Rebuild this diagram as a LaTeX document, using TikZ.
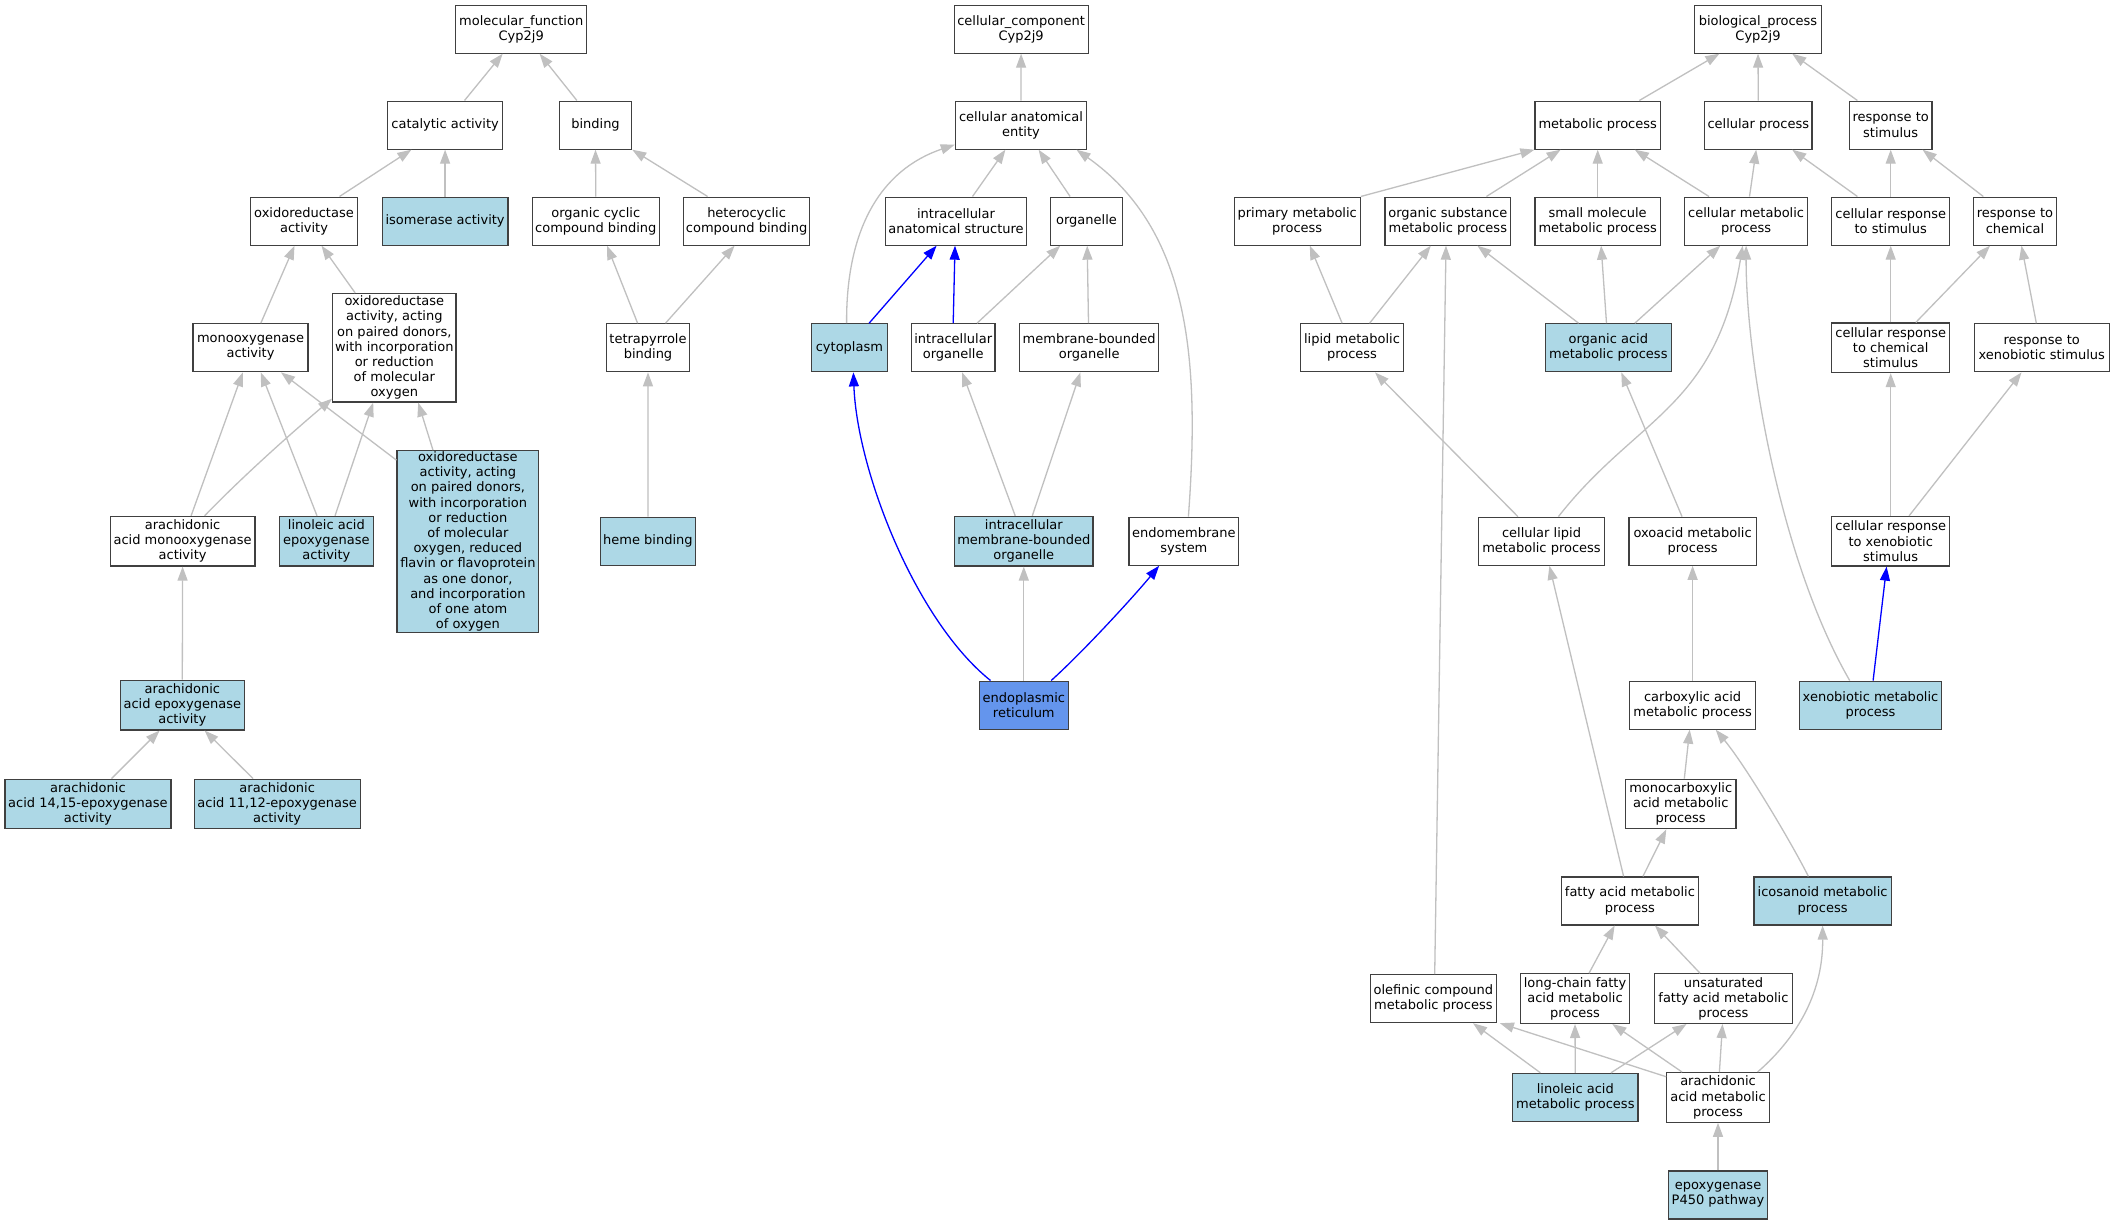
\documentclass[tikz,border=0pt]{standalone}
\usepackage{fontspec}
\setmainfont{DejaVu Sans}
\usetikzlibrary{arrows.meta}
\definecolor{lblue}{HTML}{ADD8E6}
\definecolor{cblue}{HTML}{6495ED}
\definecolor{egray}{HTML}{C0C0C0}
\newcommand\nf{\fontsize{13}{15.2}\selectfont}
\tikzset{
  box/.style={draw=black!75, line width=1.2pt, fill=white, inner sep=0pt, align=center, font=\nf, minimum height=48pt},
  lb/.style={box, fill=lblue},
  h3/.style={minimum height=49.6pt},
  e/.style={draw=egray, line width=1.3pt, -{Triangle[length=14pt,width=10pt]}},
  eb/.style={e, draw=blue}
}
\begin{document}
\begin{tikzpicture}[x=1pt,y=-1pt]
\fill[white] (0,0) rectangle (2113,1224);
\useasboundingbox (0,0) rectangle (2113,1224);
% row 1
\node[box, minimum width=131.3pt] (mf) at (521.2,29.1) {molecular\_function\\Cyp2j9};
\node[box, minimum width=134pt] (cc) at (1021.1,29.1) {cellular\_component\\Cyp2j9};
\node[box, minimum width=126.8pt] (bp) at (1758,29.1) {biological\_process\\Cyp2j9};
% row 2
\node[box, minimum width=115.1pt] (cat) at (445.1,125.1) {catalytic activity};
\node[box, minimum width=72.3pt] (bind) at (595.5,125.1) {binding};
\node[box, minimum width=131.3pt] (cae) at (1021,125.1) {cellular anatomical\\entity};
\node[box, minimum width=125.4pt] (met) at (1597.7,125.1) {metabolic process};
\node[box, minimum width=107.5pt] (cellp) at (1758.3,125.1) {cellular process};
\node[box, minimum width=82.7pt] (rts) at (1890.7,125.1) {response to\\stimulus};
% row 3
\node[box, minimum width=107.1pt] (oxr) at (304,221.1) {oxidoreductase\\activity};
\node[lb, minimum width=125.9pt] (iso) at (445.1,221.1) {isomerase activity};
\node[box, minimum width=126.8pt] (occb) at (595.8,221.1) {organic cyclic\\compound binding};
\node[box, minimum width=126.3pt] (hcb) at (746.6,221.1) {heterocyclic\\compound binding};
\node[box, minimum width=141.2pt] (ias) at (956,221.1) {intracellular\\anatomical structure};
\node[box, minimum width=72.4pt] (org) at (1086.5,221.1) {organelle};
\node[box, minimum width=125.9pt] (pmp) at (1297.2,221.1) {primary metabolic\\process};
\node[box, minimum width=125.8pt] (osmp) at (1447.8,221.1) {organic substance\\metabolic process};
\node[box, minimum width=125.4pt] (smmp) at (1597.7,221.1) {small molecule\\metabolic process};
\node[box, minimum width=122.8pt] (cmp) at (1746.1,221.1) {cellular metabolic\\process};
\node[box, minimum width=117.8pt] (crs) at (1890.7,221.1) {cellular response\\to stimulus};
\node[box, minimum width=83.2pt] (rtc) at (2015,221.1) {response to\\chemical};
% row 4
\node[box, minimum width=115.1pt] (mono) at (250.5,347.8) {monooxygenase\\activity};
\node[box, minimum width=123.2pt, minimum height=108.5pt] (oxra) at (394.3,347.8) {oxidoreductase\\activity, acting\\on paired donors,\\with incorporation\\or reduction\\of molecular\\oxygen};
\node[box, minimum width=82.7pt] (tetra) at (648,347.8) {tetrapyrrole\\binding};
\node[lb, minimum width=75.5pt] (cyto) at (849.4,347.8) {cytoplasm};
\node[box, minimum width=83.6pt] (io) at (953.2,347.8) {intracellular\\organelle};
\node[box, minimum width=139pt] (mbo) at (1089.2,347.8) {membrane-bounded\\organelle};
\node[box, minimum width=102.5pt] (lmp) at (1352,347.8) {lipid metabolic\\process};
\node[lb, minimum width=125.9pt] (oamp) at (1608.3,347.8) {organic acid\\metabolic process};
\node[box, h3, minimum width=117.8pt] (crcs) at (1890.7,347.8) {cellular response\\to chemical\\stimulus};
\node[box, minimum width=134.9pt] (rxs) at (2041.7,347.8) {response to\\xenobiotic stimulus};
% row 5
\node[box, h3, minimum width=144.8pt] (aramono) at (182.6,541.2) {arachidonic\\acid monooxygenase\\activity};
\node[lb, h3, minimum width=93.5pt] (linepox) at (326.4,541.2) {linoleic acid\\epoxygenase\\activity};
\node[lb, minimum width=141.7pt, minimum height=181.5pt] (oxrb) at (467.9,541.5) {oxidoreductase\\activity, acting\\on paired donors,\\with incorporation\\or reduction\\of molecular\\oxygen, reduced\\flavin or flavoprotein\\as one donor,\\and incorporation\\of one atom\\of oxygen};
\node[lb, minimum width=94.4pt] (heme) at (647.9,541.2) {heme binding};
\node[lb, h3, minimum width=138.5pt] (imbo) at (1023.8,541.2) {intracellular\\membrane-bounded\\organelle};
\node[box, minimum width=109.7pt] (ems) at (1183.9,541.2) {endomembrane\\system};
\node[box, minimum width=125.4pt] (clmp) at (1541.5,541.2) {cellular lipid\\metabolic process};
\node[box, minimum width=127.2pt] (oxo) at (1692.6,541.2) {oxoacid metabolic\\process};
\node[box, h3, minimum width=117.8pt] (crxs) at (1890.7,541.2) {cellular response\\to xenobiotic\\stimulus};
% row 6
\node[lb, h3, minimum width=123.7pt] (araepox) at (182.3,705.1) {arachidonic\\acid epoxygenase\\activity};
\node[box, fill=cblue, minimum width=89pt] (er) at (1023.8,705.1) {endoplasmic\\reticulum};
\node[box, minimum width=126.4pt] (carb) at (1692.6,705.1) {carboxylic acid\\metabolic process};
\node[lb, minimum width=142.1pt] (xmp) at (1870.5,705.1) {xenobiotic metabolic\\process};
% row 7
\node[lb, h3, minimum width=166pt] (a1415) at (87.9,804) {arachidonic\\acid 14,15-epoxygenase\\activity};
\node[lb, h3, minimum width=166pt] (a1112) at (277.2,804) {arachidonic\\acid 11,12-epoxygenase\\activity};
\node[box, h3, minimum width=110.6pt] (monoc) at (1680.7,804) {monocarboxylic\\acid metabolic\\process};
% row 8
\node[box, minimum width=136.7pt] (fa) at (1629.9,901) {fatty acid metabolic\\process};
\node[lb, minimum width=137.1pt] (ico) at (1822.6,901) {icosanoid metabolic\\process};
% row 9
\node[box, minimum width=125.8pt] (ole) at (1433.4,998.6) {olefinic compound\\metabolic process};
\node[box, h3, minimum width=109.7pt] (lc) at (1575,998.6) {long-chain fatty\\acid metabolic\\process};
\node[box, h3, minimum width=137.6pt] (unsat) at (1723.4,998.6) {unsaturated\\fatty acid metabolic\\process};
% row 10
\node[lb, minimum width=125.5pt] (lamp) at (1575.3,1097.4) {linoleic acid\\metabolic process};
\node[box, h3, minimum width=102.6pt] (aamp) at (1718,1097.4) {arachidonic\\acid metabolic\\process};
% row 11
\node[lb, minimum width=99pt] (p450) at (1718,1195) {epoxygenase\\P450 pathway};

% ---- edges: molecular function
\draw[e] ([xshift=19.4pt]cat.north) -- ([xshift=-18.5pt]mf.south);
\draw[e] ([xshift=-18.6pt]bind.north) -- ([xshift=18.4pt]mf.south);
\draw[e] ([xshift=35.5pt]oxr.north) -- ([xshift=-33.7pt]cat.south);
\draw[e] (iso.north) -- (cat.south);
\draw[e] (occb.north) -- (bind.south);
\draw[e] ([xshift=-39pt]hcb.north) -- (bind.south east);
\draw[e] ([xshift=10.3pt]mono.north) -- ([xshift=-9.5pt]oxr.south);
\draw[e] ([xshift=-39.1pt]oxra.north) -- ([xshift=17.5pt]oxr.south);
\draw[e] ([xshift=-10.4pt]tetra.north) -- ([xshift=11.2pt]occb.south);
\draw[e] ([xshift=17.5pt]tetra.north) -- ([xshift=-12pt]hcb.south);
\draw[e] ([xshift=8.5pt]aramono.north) -- ([xshift=-7.7pt]mono.south);
\draw[e] ([xshift=22pt]aramono.north) .. controls (245,474) and (295,430) .. ([yshift=4pt]oxra.south west);
\draw[e] ([xshift=-9.4pt]linepox.north) -- ([xshift=10.3pt]mono.south);
\draw[e] ([xshift=8.6pt]linepox.north) -- ([xshift=-21.1pt]oxra.south);
\draw[e] ([yshift=-10pt]oxrb.north west) -- ([xshift=30.5pt]mono.south);
\draw[e] ([xshift=-34.9pt]oxrb.north) -- ([xshift=23.9pt]oxra.south);
\draw[e] (heme.north) -- (tetra.south);
\draw[e] (araepox.north) -- (aramono.south);
\draw[e] ([xshift=23.6pt]a1415.north) -- ([xshift=-22.7pt]araepox.south);
\draw[e] ([xshift=-24.1pt]a1112.north) -- ([xshift=22.3pt]araepox.south);
% ---- edges: cellular component
\draw[e] (cae.north) -- (cc.south);
\draw[e] ([xshift=16.5pt]ias.north) -- ([xshift=-15.6pt]cae.south);
\draw[e] ([xshift=-16.4pt]org.north) -- ([xshift=17.6pt]cae.south);
\draw[e] ([xshift=-2.8pt]cyto.north) .. controls (846,230) and (880,170) .. ([yshift=5pt]cae.south west);
\draw[e] ([xshift=4.5pt]ems.north) .. controls (1200,360) and (1190,230) .. ([xshift=-10.7pt]cae.south east);
\draw[eb] ([xshift=19.7pt]cyto.north) -- ([xshift=-19.4pt]ias.south);
\draw[eb] (io.north) -- ([xshift=-1pt]ias.south);
\draw[e] ([xshift=23.8pt]io.north) -- ([xshift=-26.3pt]org.south);
\draw[e] ([xshift=-0.7pt]mbo.north) -- ([xshift=0.7pt]org.south);
\draw[e] ([xshift=-8.6pt]imbo.north) -- ([xshift=9pt]io.south);
\draw[e] ([xshift=8.5pt]imbo.north) -- ([xshift=-8.8pt]mbo.south);
\draw[eb] ([xshift=-33.3pt]er.north) .. controls (915,620) and (857,470) .. ([xshift=4pt]cyto.south);
\draw[e] (er.north) -- (imbo.south);
\draw[eb] ([xshift=27.4pt]er.north) .. controls (1085,650) and (1135,595) .. ([xshift=-24.8pt]ems.south);
% ---- edges: biological process
\draw[e] ([xshift=41.6pt]met.north) -- ([xshift=-38.6pt]bp.south);
\draw[e] (cellp.north) -- (bp.south);
\draw[e] ([xshift=-33.3pt]rts.north) -- ([xshift=34.2pt]bp.south);
\draw[e] (pmp.north east) -- (met.south west);
\draw[e] ([xshift=38.6pt]osmp.north) -- ([xshift=-37.1pt]met.south);
\draw[e] (smmp.north) -- (met.south);
\draw[e] ([xshift=-37.1pt]cmp.north) -- ([xshift=37.1pt]met.south);
\draw[e] ([xshift=3.4pt]cmp.north) -- ([xshift=-2.1pt]cellp.south);
\draw[e] ([xshift=-33.3pt]crs.north) -- ([xshift=33.9pt]cellp.south);
\draw[e] (crs.north) -- (rts.south);
\draw[e] ([xshift=-31.7pt]rtc.north) -- ([xshift=31.9pt]rts.south);
\draw[e] ([xshift=-9.9pt]lmp.north) -- ([xshift=12.6pt]pmp.south);
\draw[e] ([xshift=17.6pt]lmp.north) -- ([xshift=-17pt]osmp.south);
\draw[e] ([xshift=-29.7pt]oamp.north) -- ([xshift=29.6pt]osmp.south);
\draw[e] ([xshift=-1.8pt]oamp.north) -- ([xshift=3.4pt]smmp.south);
\draw[e] ([xshift=26.5pt]oamp.north) -- ([xshift=-25.8pt]cmp.south);
\draw[e] (crcs.north) -- (crs.south);
\draw[e] ([xshift=25.1pt]crcs.north) -- ([xshift=-25pt]rtc.south);
\draw[e] ([xshift=-5.4pt]rxs.north) -- ([xshift=6.5pt]rtc.south);
\draw[e] ([xshift=-23.6pt]clmp.north) -- ([xshift=23pt]lmp.south);
\draw[e] ([xshift=16.9pt]clmp.north) .. controls (1637,416.4) and (1715.7,408.8) .. ([xshift=-3.4pt]cmp.south);
\draw[e] ([xshift=-10.6pt]oxo.north) -- ([xshift=13pt]oamp.south);
\draw[e] (crxs.north) -- (crcs.south);
\draw[e] ([xshift=18.4pt]crxs.north) -- ([xshift=-20.2pt]rxs.south);
\draw[e] ([xshift=1.3pt]ole.north) -- ([xshift=-1.8pt]osmp.south);
\draw[e] ([xshift=-20.8pt]xmp.north) .. controls (1780,560) and (1746,360) .. (cmp.south);
\draw[eb] ([xshift=2.6pt]xmp.north) -- ([xshift=-4.1pt]crxs.south);
\draw[e] (carb.north) -- (oxo.south);
\draw[e] ([xshift=-6.3pt]fa.north) -- ([xshift=7.9pt]clmp.south);
\draw[e] ([xshift=3.6pt]monoc.north) -- ([xshift=-2.9pt]carb.south);
\draw[e] ([xshift=-14.2pt]ico.north) .. controls (1790,840) and (1745,765) .. ([xshift=23.1pt]carb.south);
\draw[e] ([xshift=13pt]fa.north) -- ([xshift=-14.4pt]monoc.south);
\draw[e] ([xshift=14pt]lc.north) -- ([xshift=-15.3pt]fa.south);
\draw[e] ([xshift=-23.4pt]unsat.north) -- ([xshift=25.1pt]fa.south);
\draw[e] ([xshift=-34.9pt]lamp.north) -- ([xshift=39.6pt]ole.south);
\draw[e] (lamp.north) -- (lc.south);
\draw[e] ([xshift=35.7pt]lamp.north) -- ([xshift=-36.9pt]unsat.south);
\draw[e] ([yshift=-4.7pt]aamp.north west) -- ([xshift=3pt]ole.south east);
\draw[e] ([xshift=-36pt]aamp.north) -- ([xshift=37.3pt]lc.south);
\draw[e] ([xshift=1.4pt]aamp.north) -- ([xshift=-0.9pt]unsat.south);
\draw[e] ([xshift=39.6pt]aamp.north) .. controls (1800,1035) and (1823,990) .. (ico.south);
\draw[e] (p450.north) -- (aamp.south);
\end{tikzpicture}
\end{document}
